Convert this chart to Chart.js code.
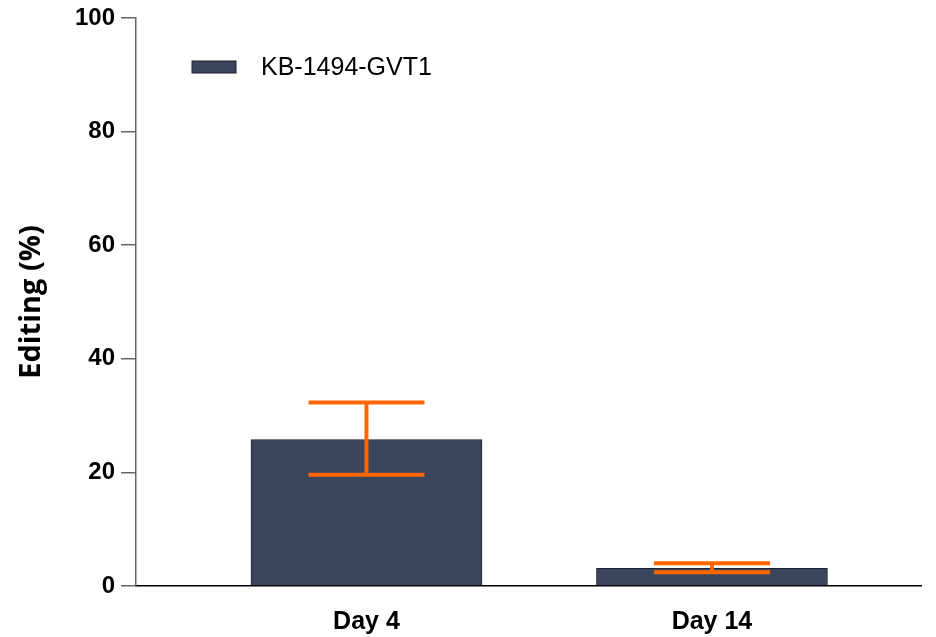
<!DOCTYPE html>
<html>
<head>
<meta charset="utf-8">
<script src="https://cdn.jsdelivr.net/npm/chart.js@4/dist/chart.umd.min.js"></script>
<style>
    html, body { margin: 0; padding: 0; background: #fff; }
    #wrap { width: 936px; height: 637px; }
</style>
</head>
<body>
<div id="wrap"><canvas id="editChart"></canvas></div>
<script>
// Данные
const days = ['Day 4', 'Day 14'];
const editing = [25.8, 3.1];
const errLow = [19.6, 2.4];
const errHigh = [32.3, 4.0];
const yTicks = [0, 20, 40, 60, 80, 100];

const barColor = '#3b455b';
const errColor = '#ff6600';

// Усы ошибок поверх столбцов
const errorBars = {
    id: 'errorBars',
    afterDatasetsDraw(chart) {
        const { ctx, scales: { x, y } } = chart;
        ctx.save();
        ctx.strokeStyle = errColor;
        ctx.lineWidth = 4;
        days.forEach((d, i) => {
            const cx = x.getPixelForValue(i + 1);
            const top = y.getPixelForValue(errHigh[i]);
            const bot = y.getPixelForValue(errLow[i]);
            const half = 58;
            ctx.beginPath();
            ctx.moveTo(cx, top); ctx.lineTo(cx, bot);
            ctx.moveTo(cx - half, top); ctx.lineTo(cx + half, top);
            ctx.moveTo(cx - half, bot); ctx.lineTo(cx + half, bot);
            ctx.stroke();
        });
        ctx.restore();
    }
};

// Легенда внутри области графика
const insideLegend = {
    id: 'insideLegend',
    afterDraw(chart) {
        const { ctx, chartArea } = chart;
        const ds = chart.data.datasets[0];
        const bx = chartArea.left + 56, by = chartArea.top + 43;
        ctx.save();
        ctx.fillStyle = ds.backgroundColor;
        ctx.strokeStyle = ds.borderColor;
        ctx.lineWidth = 1;
        ctx.fillRect(bx, by, 44, 12);
        ctx.strokeRect(bx, by, 44, 12);
        ctx.fillStyle = '#000';
        ctx.font = '25px "Liberation Sans", Arial, sans-serif';
        ctx.textBaseline = 'middle';
        ctx.fillText(ds.label, bx + 69, by + 7);
        ctx.restore();
    }
};

new Chart(document.getElementById('editChart'), {
    type: 'bar',
    data: {
        datasets: [{
            label: 'KB-1494-GVT1',
            data: days.map((d, i) => ({ x: i + 1, y: editing[i] })),
            backgroundColor: barColor,
            borderColor: '#1c2130',
            borderWidth: 1,
            barThickness: 231
        }]
    },
    options: {
        responsive: true,
        maintainAspectRatio: false,
        animation: false,
        layout: { padding: { top: 16, right: 15, left: 0, bottom: 0 } },
        plugins: {
            legend: { display: false },
            tooltip: { enabled: false }
        },
        scales: {
            x: {
                type: 'linear',
                offset: false,
                bounds: 'ticks',
                min: 0.333,
                max: 2.605,
                afterBuildTicks: s => { s.ticks = days.map((d, i) => ({ value: i + 1 })); },
                afterFit: s => { s.height = 51; },
                grid: { display: false, offset: false },
                border: { display: true, color: '#000', width: 1.5 },
                ticks: {
                    color: '#000',
                    padding: 16,
                    font: { family: '"Liberation Sans", Arial, sans-serif', size: 25, weight: 'bold', lineHeight: 1 },
                    callback: v => days[v - 1]
                }
            },
            y: {
                min: 0,
                max: 100,
                afterBuildTicks: s => { s.ticks = yTicks.map(v => ({ value: v })); },
                afterFit: s => { s.width = 136; },
                grid: { drawOnChartArea: false, tickLength: 15, color: '#666', lineWidth: 1.5 },
                border: { display: true, color: '#666', width: 1.5 },
                ticks: {
                    color: '#000',
                    padding: 6,
                    font: { family: '"Liberation Sans", Arial, sans-serif', size: 24, weight: 'bold', lineHeight: 1 }
                },
                title: {
                    display: true,
                    text: 'Editing (%)',
                    color: '#000',
                    padding: { top: 14, bottom: 0 },
                    font: { family: '"Open Sans", sans-serif', size: 29, weight: 'bold' }
                }
            }
        }
    },
    plugins: [errorBars, insideLegend]
});
</script>
</body>
</html>
